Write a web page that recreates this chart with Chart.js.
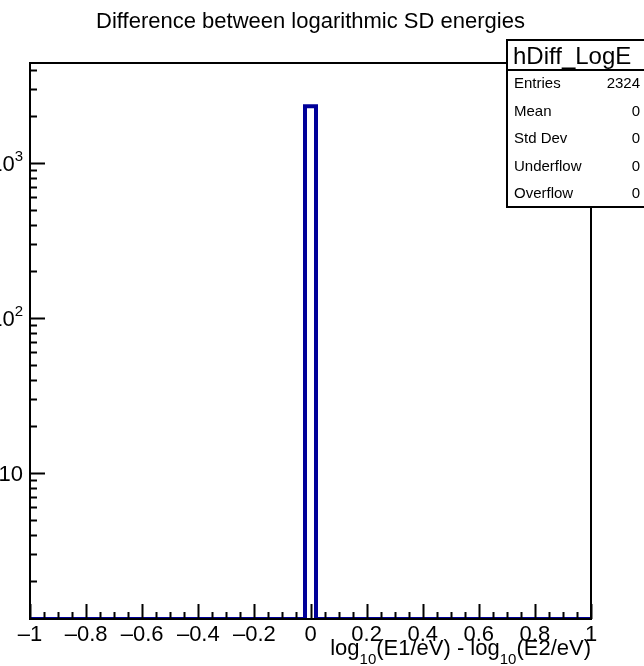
<!DOCTYPE html>
<html>
<head>
<meta charset="utf-8">
<script src="https://cdn.jsdelivr.net/npm/chart.js@4.4.1/dist/chart.umd.min.js"></script>
<style>
  html, body { margin: 0; padding: 0; background: #fff; }
  canvas { display: block; }
</style>
</head>
<body>
<canvas id="hist" width="644" height="666"></canvas>
<script>
// hDiff_LogE : 51 bins on [-1, 1], every entry lands in the central bin
const binCounts = [
  0, 0, 0, 0, 0, 0, 0, 0, 0, 0,
  0, 0, 0, 0, 0, 0, 0, 0, 0, 0,
  0, 0, 0, 0, 0, 2324, 0, 0, 0, 0,
  0, 0, 0, 0, 0, 0, 0, 0, 0, 0,
  0, 0, 0, 0, 0, 0, 0, 0, 0, 0,
  0
];
const xRange = [-1, 1];
const yRange = [1.14, 4420];
const xMajorStep = 0.2;
const xMinorStep = 0.05;
const yTickValues = [10, 100, 1000];
const yTickExponents = ['', '2', '3'];

const histTitle = 'Difference between logarithmic SD energies';
const statsName = 'hDiff_LogE';
const statNames = ['Entries', 'Mean', 'Std Dev', 'Underflow', 'Overflow'];
const statValues = ['2324', '0', '0', '0', '0'];

const FONT = "'Liberation Sans', Arial, Helvetica, sans-serif";
const LINE_COLOR = '#000099';

// outline points: low edge of every bin + the last high edge
const nBins = binCounts.length;
const binWidth = (xRange[1] - xRange[0]) / nBins;
const outline = binCounts.map((c, i) => ({ x: xRange[0] + i * binWidth, y: Math.max(c, yRange[0]) }));
outline.push({ x: xRange[1], y: Math.max(binCounts[nBins - 1], yRange[0]) });

function fmtX(v) {
  const s = String(Number(v.toFixed(2)));
  return s.replace('-', '\u2013');
}

// ROOT style frame, inward ticks, y labels, title, axis title and the stats box
const rootDecor = {
  id: 'rootDecor',
  afterDatasetsDraw(chart) {
    const { ctx, chartArea: a, scales: { x, y } } = chart;
    ctx.save();
    ctx.strokeStyle = '#000';
    ctx.lineWidth = 2;
    ctx.lineCap = 'butt';

    ctx.beginPath();
    const nMinor = Math.round((xRange[1] - xRange[0]) / xMinorStep);
    const perMajor = Math.round(xMajorStep / xMinorStep);
    for (let i = 0; i <= nMinor; i++) {
      const px = Math.round(x.getPixelForValue(xRange[0] + i * xMinorStep)) + 0.5;
      const len = i % perMajor === 0 ? 15 : 7;
      ctx.moveTo(px, a.bottom);
      ctx.lineTo(px, a.bottom - len);
    }
    const dLo = Math.floor(Math.log10(yRange[0]));
    const dHi = Math.ceil(Math.log10(yRange[1]));
    for (let d = dLo; d <= dHi; d++) {
      for (let k = 1; k <= 9; k++) {
        const v = k * Math.pow(10, d);
        if (v < yRange[0] || v > yRange[1]) continue;
        const py = Math.round(y.getPixelForValue(v)) + 0.5;
        ctx.moveTo(a.left, py);
        ctx.lineTo(a.left + (k === 1 ? 15 : 7), py);
      }
    }
    ctx.stroke();

    ctx.strokeRect(a.left, a.top, a.right - a.left, a.bottom - a.top);

    // y labels: "10" with a raised exponent, right aligned left of the axis
    ctx.fillStyle = '#000';
    ctx.textBaseline = 'alphabetic';
    yTickValues.forEach((v, i) => {
      const py = y.getPixelForValue(v);
      const exp = yTickExponents[i];
      let rx = a.left - 7;
      if (exp) {
        ctx.font = `15px ${FONT}`;
        ctx.textAlign = 'right';
        ctx.fillText(exp, rx, py - 2);
        rx -= ctx.measureText(exp).width;
      }
      ctx.font = `22px ${FONT}`;
      ctx.textAlign = 'right';
      ctx.fillText('10', rx, py + 8);
    });
    ctx.restore();
  },
  afterDraw(chart) {
    const { ctx, chartArea: a } = chart;
    ctx.save();
    ctx.fillStyle = '#000';

    // histogram title
    ctx.font = `22px ${FONT}`;
    ctx.textAlign = 'center';
    ctx.textBaseline = 'alphabetic';
    ctx.fillText(histTitle, (a.left + a.right) / 2, 28);

    // x axis title with subscripts, right aligned on the frame
    const parts = [
      { t: 'log', sub: false }, { t: '10', sub: true },
      { t: '(E1/eV) - log', sub: false }, { t: '10', sub: true },
      { t: '(E2/eV)', sub: false }
    ];
    const big = `22px ${FONT}`;
    const small = `15px ${FONT}`;
    let total = 0;
    for (const p of parts) {
      ctx.font = p.sub ? small : big;
      p.w = ctx.measureText(p.t).width;
      total += p.w;
    }
    let cx = a.right - total;
    ctx.textAlign = 'left';
    for (const p of parts) {
      ctx.font = p.sub ? small : big;
      ctx.fillText(p.t, cx, p.sub ? 664 : 655);
      cx += p.w;
    }

    // stats box
    const bx = 507, by = 40, bw = 150, bh = 167, head = 30;
    ctx.fillStyle = '#fff';
    ctx.fillRect(bx, by, bw, bh);
    ctx.strokeStyle = '#000';
    ctx.lineWidth = 2;
    ctx.strokeRect(bx, by, bw, bh);
    ctx.beginPath();
    ctx.moveTo(bx, by + head);
    ctx.lineTo(bx + bw, by + head);
    ctx.stroke();

    ctx.fillStyle = '#000';
    ctx.font = `24px ${FONT}`;
    ctx.textAlign = 'left';
    ctx.fillText(statsName, 513, by + 24);

    ctx.font = `15px ${FONT}`;
    statNames.forEach((name, i) => {
      const ty = by + head + 18 + i * 27.5;
      ctx.textAlign = 'left';
      ctx.fillText(name, 514, ty);
      ctx.textAlign = 'right';
      ctx.fillText(statValues[i], 640, ty);
    });
    ctx.restore();
  }
};

new Chart(document.getElementById('hist'), {
  type: 'line',
  data: {
    datasets: [{
      label: statsName,
      data: outline,
      stepped: 'before',
      borderColor: LINE_COLOR,
      borderWidth: 4,
      borderJoinStyle: 'miter',
      borderCapStyle: 'butt',
      pointRadius: 0,
      fill: false,
      tension: 0
    }]
  },
  options: {
    responsive: false,
    animation: false,
    devicePixelRatio: 1,
    layout: { padding: { top: 63, right: 53, left: 0, bottom: 0 } },
    plugins: { legend: { display: false }, tooltip: { enabled: false }, title: { display: false } },
    scales: {
      x: {
        type: 'linear',
        min: xRange[0],
        max: xRange[1],
        grid: { display: false, drawTicks: false },
        border: { display: false },
        ticks: {
          stepSize: xMajorStep,
          padding: 3,
          color: '#000',
          font: { family: FONT, size: 22 },
          maxRotation: 0,
          autoSkip: false,
          callback: v => fmtX(v)
        },
        afterFit: s => { s.height = 47; }
      },
      y: {
        type: 'logarithmic',
        min: yRange[0],
        max: yRange[1],
        grid: { display: false, drawTicks: false },
        border: { display: false },
        ticks: { display: false },
        afterBuildTicks: s => { s.ticks = yTickValues.map(v => ({ value: v })); },
        afterFit: s => { s.width = 30; }
      }
    }
  },
  plugins: [rootDecor]
});
</script>
</body>
</html>
